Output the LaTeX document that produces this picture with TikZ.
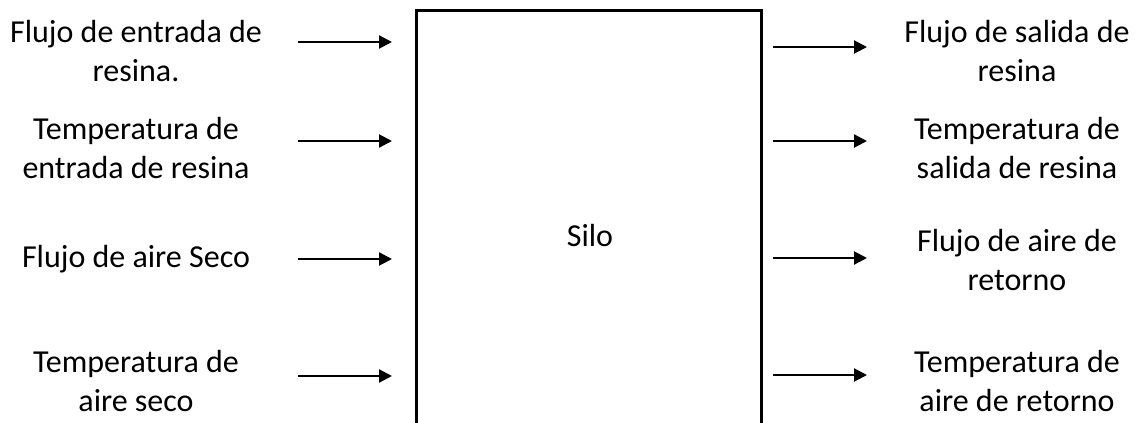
\documentclass[tikz,border=0pt]{standalone}
\usepackage{fontspec}
\setmainfont{Carlito}
\usetikzlibrary{arrows.meta}
\begin{document}
\begin{tikzpicture}[x=1pt,y=-1pt,
  lbl/.style={align=center,inner sep=0pt,font=\fontsize{32}{38.5}\selectfont},
  flow/.style={line width=2.2pt,-{Triangle[length=13pt,width=13pt]}},
  wall/.style={line width=3pt,line join=miter}]
\useasboundingbox (0,0) rectangle (1144,423);
% silo box (open at bottom)
\draw[wall] (416,440) |- (761,10) -- (761,440);
\node[lbl] (silo) at (590,235) {Silo};
% left labels
\node[lbl] (in1) at (136,51) {Flujo de entrada de\\resina.};
\node[lbl] (in2) at (136,148) {Temperatura de\\entrada de resina};
\node[lbl] (in3) at (136,259) {Flujo de aire Seco};
\node[lbl] (in4) at (136,381) {Temperatura de\\aire seco};
% right labels
\node[lbl] (out1) at (1017,51) {Flujo de salida de\\resina};
\node[lbl] (out2) at (1017,148) {Temperatura de\\salida de resina};
\node[lbl] (out3) at (1017,260) {Flujo de aire de\\retorno};
\node[lbl] (out4) at (1017,381) {Temperatura de\\aire de retorno};
% arrow end points
\coordinate (a1s) at (298,42);  \coordinate (a1e) at (392,42);
\coordinate (a2s) at (298,141); \coordinate (a2e) at (392,141);
\coordinate (a3s) at (298,259); \coordinate (a3e) at (392,259);
\coordinate (a4s) at (298,376); \coordinate (a4e) at (392,376);
\coordinate (b1s) at (773,47);  \coordinate (b1e) at (867,47);
\coordinate (b2s) at (773,141); \coordinate (b2e) at (867,141);
\coordinate (b3s) at (773,258); \coordinate (b3e) at (867,258);
\coordinate (b4s) at (773,375); \coordinate (b4e) at (867,375);
\foreach \p in {a1,a2,a3,a4,b1,b2,b3,b4}
  \draw[flow] (\p s) -- (\p e);
\end{tikzpicture}
\end{document}
